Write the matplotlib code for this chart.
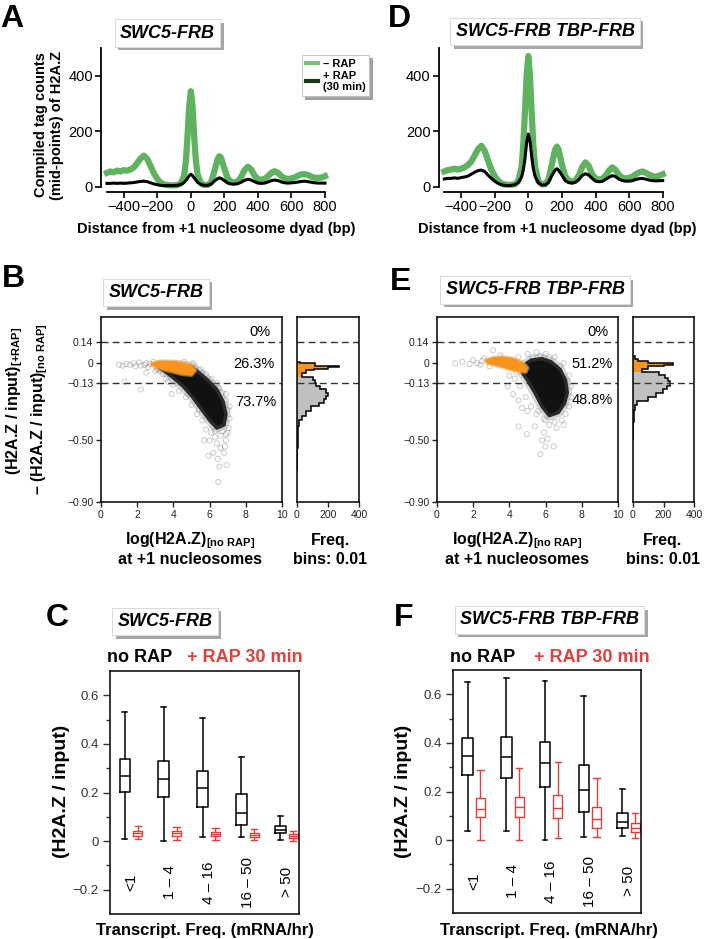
import matplotlib
matplotlib.use('Agg')
import matplotlib.pyplot as plt
import matplotlib.patheffects as pe
from matplotlib.lines import Line2D
from matplotlib.patches import Polygon
import numpy as np

plt.rcParams['font.family'] = ['Liberation Sans', 'DejaVu Sans']
plt.rcParams['mathtext.fontset'] = 'custom'
plt.rcParams['mathtext.rm'] = 'Liberation Sans'
plt.rcParams['mathtext.bf'] = 'Liberation Sans:bold'
plt.rcParams['mathtext.it'] = 'Liberation Sans:italic'

# ---------------- data ----------------
POS = [-500, -480, -460, -440, -420, -400, -380, -360, -340, -320, -300, -280, -260, -240,
       -220, -200, -180, -160, -140, -120, -100, -80, -60, -40, -30, -20, -10, 0, 10, 20,
       30, 40, 60, 80, 100, 120, 140, 160, 170, 180, 200, 220, 240, 260, 280, 300, 320,
       340, 360, 380, 400, 420, 440, 460, 480, 500, 520, 540, 560, 580, 600, 620, 640,
       660, 680, 700, 720, 740, 760, 780, 800]
A_NORAP = [50, 55, 52, 58, 55, 60, 58, 62, 70, 85, 102, 112, 100, 75, 48, 28, 15, 8, 6, 5, 5,
           6, 12, 40, 90, 180, 290, 345, 290, 180, 95, 45, 12, 6, 6, 15, 55, 100, 110, 105, 65,
           30, 18, 15, 20, 35, 60, 72, 62, 40, 28, 25, 28, 38, 50, 56, 50, 38, 30, 28, 30, 34,
           40, 45, 45, 42, 36, 32, 32, 33, 38]
A_RAP = [12, 12, 13, 12, 13, 12, 13, 14, 15, 17, 19, 20, 18, 14, 10, 7, 5, 4, 4, 4, 4, 5, 8, 15,
         22, 30, 40, 45, 40, 32, 24, 16, 8, 5, 5, 9, 20, 29, 32, 30, 22, 13, 10, 9, 11, 16, 23,
         27, 24, 18, 13, 12, 13, 17, 22, 24, 22, 17, 14, 13, 14, 15, 17, 19, 20, 18, 16, 14, 13,
         13, 13]
D_NORAP = [55, 60, 62, 65, 62, 65, 70, 78, 90, 112, 135, 148, 130, 95, 62, 38, 22, 12, 8, 7, 7,
           9, 20, 70, 150, 270, 400, 472, 400, 270, 150, 75, 20, 9, 9, 25, 80, 135, 145, 135, 80,
           38, 22, 18, 22, 40, 70, 88, 75, 45, 30, 26, 28, 40, 58, 70, 60, 42, 32, 30, 32, 36,
           45, 52, 55, 50, 43, 38, 36, 40, 45]
D_RAP = [28, 30, 30, 32, 30, 33, 35, 38, 45, 52, 58, 60, 55, 42, 30, 20, 12, 7, 5, 4, 5, 7, 15,
         35, 60, 100, 160, 190, 165, 110, 65, 38, 14, 6, 6, 15, 40, 60, 65, 60, 42, 22, 15, 13,
         16, 25, 40, 47, 42, 30, 20, 18, 19, 26, 34, 40, 36, 27, 22, 20, 20, 22, 26, 29, 30, 27,
         24, 22, 21, 22, 22]
PROFILE_XTICKS = [-400, -200, 0, 200, 400, 600, 800]
PROFILE_YTICKS = [0, 200, 400]

# scatter panels (B, E): dense core outline, orange subset outline, sparse points
B_CORE_X = [3.2, 4.2, 5.0, 5.4, 5.9, 6.4, 6.75, 6.9, 6.8, 6.4, 6.0, 5.5, 5.0, 4.5, 4.0, 3.5, 3.2]
B_CORE_Y = [-0.01, -0.01, -0.02, -0.06, -0.11, -0.17, -0.25, -0.33, -0.40, -0.42, -0.37, -0.29,
            -0.21, -0.145, -0.095, -0.05, -0.03]
B_OR_X = [2.8, 3.3, 4.0, 4.6, 5.0, 5.2, 5.0, 4.5, 3.8, 3.2, 2.8]
B_OR_Y = [0.0, 0.012, 0.01, 0.0, -0.015, -0.045, -0.075, -0.07, -0.05, -0.03, -0.012]
B_PTS_X = [1.0, 1.2, 1.4, 1.6, 1.8, 1.9, 2.1, 2.2, 2.4, 2.5, 2.6, 2.7, 1.3, 2.2, 2.5, 3.9, 3.6,
           3.0, 4.6, 5.1, 5.5, 5.8, 6.1, 6.4, 6.7, 6.9, 7.0, 7.1, 7.05, 6.9, 6.6, 6.3, 6.1, 5.8,
           5.6, 5.3, 5.0, 4.7, 4.3, 4.0, 3.7, 6.0, 6.4, 6.6, 6.9, 6.2, 6.8, 6.54, 6.94, 6.45,
           6.48, 5.93, 6.85, 7.0, 5.7, 6.3, 6.7, 5.2, 5.6, 6.0, 6.5, 6.9, 7.1, 6.2, 5.4, 4.8,
           4.4, 3.4, 2.9, 3.1]
B_PTS_Y = [-0.01, -0.015, -0.005, -0.01, 0.0, -0.02, 0.005, -0.015, -0.01, 0.0, -0.025, -0.005,
           -0.12, -0.17, -0.06, -0.2, -0.1, -0.05, 0.01, 0.0, -0.04, -0.07, -0.1, -0.13, -0.19,
           -0.24, -0.3, -0.36, -0.42, -0.46, -0.47, -0.48, -0.45, -0.43, -0.37, -0.33, -0.27,
           -0.22, -0.18, -0.14, -0.12, -0.5, -0.52, -0.55, -0.5, -0.58, -0.58, -0.67, -0.66,
           -0.62, -0.77, -0.6, -0.54, -0.45, -0.5, -0.44, -0.44, -0.03, -0.06, -0.12, -0.16,
           -0.2, -0.28, -0.41, -0.3, -0.2, -0.13, -0.07, 0.01, -0.04]
E_CORE_X = [4.7, 5.2, 5.8, 6.3, 6.8, 7.1, 7.2, 7.05, 6.7, 6.2, 5.8, 5.4, 5.0, 4.7]
E_CORE_Y = [-0.02, 0.02, 0.03, 0.01, -0.04, -0.11, -0.19, -0.26, -0.32, -0.34, -0.28, -0.19,
            -0.11, -0.06]
E_OR_X = [2.7, 3.1, 3.6, 4.2, 4.7, 5.0, 4.9, 4.4, 3.8, 3.2, 2.8, 2.7]
E_OR_Y = [0.02, 0.035, 0.04, 0.03, 0.005, -0.03, -0.055, -0.05, -0.03, -0.01, 0.0, 0.02]
E_PTS_X = [1.0, 1.4, 1.8, 2.0, 2.2, 2.4, 2.5, 3.1, 2.9, 4.5, 5.0, 5.5, 6.0, 6.5, 7.0, 7.3, 7.4,
           7.4, 7.3, 7.1, 6.9, 6.5, 6.2, 5.9, 5.5, 5.2, 4.9, 4.6, 4.3, 4.0, 3.9, 4.2, 4.5, 4.7,
           5.0, 4.51, 4.97, 5.4, 5.9, 6.1, 5.99, 5.71, 6.45, 6.6, 7.0, 5.8, 5.3, 5.7, 6.2, 6.8,
           7.2, 6.0, 5.6, 4.4, 3.5, 2.6]
E_PTS_Y = [0.0, 0.01, -0.005, 0.02, 0.0, -0.01, 0.015, 0.085, -0.02, 0.04, 0.06, 0.07, 0.06,
           0.04, 0.0, -0.08, -0.15, -0.22, -0.28, -0.33, -0.37, -0.38, -0.4, -0.36, -0.33,
           -0.28, -0.22, -0.15, -0.1, -0.08, -0.15, -0.2, -0.24, -0.29, -0.31, -0.41, -0.46,
           -0.41, -0.45, -0.49, -0.54, -0.59, -0.54, -0.42, -0.4, -0.5, 0.04, 0.05, 0.04, -0.02,
           -0.12, -0.37, -0.31, -0.06, 0.05, 0.03]
SC_YTICKS = [0.14, 0, -0.13, -0.50, -0.90]
SC_YLABELS = ['0.14', '0', '\u22120.13', '\u22120.50', '\u22120.90']
B_PCTS = ['0%', '26.3%', '73.7%']
E_PCTS = ['0%', '51.2%', '48.8%']

# marginal histograms (bins 0.01), all genes and orange subset
B_ALL_EDGES = [-0.70, -0.55, -0.46, -0.41, -0.37, -0.34, -0.31, -0.28, -0.26, -0.23, -0.21,
               -0.19, -0.17, -0.15, -0.13, -0.11, -0.09, -0.06, -0.045, -0.035, -0.025,
               -0.015, 0.0, 0.01]
B_ALL_COUNTS = [1, 4, 8, 15, 30, 55, 90, 145, 175, 190, 200, 185, 150, 120, 115, 100, 35, 55,
                110, 200, 270, 115, 20]
B_OR_EDGES = [-0.09, -0.06, -0.045, -0.035, -0.025, -0.015, 0.0, 0.01]
B_OR_COUNTS = [30, 55, 110, 200, 270, 115, 20]
E_ALL_EDGES = [-0.50, -0.38, -0.30, -0.27, -0.247, -0.22, -0.19, -0.168, -0.146, -0.118,
               -0.097, -0.075, -0.054, -0.036, -0.02, -0.009, 0.004, 0.017, 0.03, 0.047]
E_ALL_COUNTS = [2, 6, 12, 25, 100, 150, 195, 225, 240, 230, 210, 170, 60, 100, 200, 260, 100,
                30, 10]
E_OR_EDGES = [-0.054, -0.036, -0.02, -0.009, 0.004, 0.017, 0.03, 0.047]
E_OR_COUNTS = [60, 100, 200, 260, 100, 30, 10]

# box plots: rows = whisker low, Q1, median, Q3, whisker high
CATS = ['<1', '1 \u2013 4', '4 \u2013 16', '16 \u2013 50', '> 50']
C_NORAP = [[0.007, 0.0, 0.018, 0.015, 0.004],
           [0.204, 0.181, 0.142, 0.066, 0.032],
           [0.266, 0.255, 0.217, 0.114, 0.046],
           [0.338, 0.331, 0.288, 0.192, 0.062],
           [0.532, 0.552, 0.506, 0.346, 0.105]]
C_RAP = [[0.007, 0.004, 0.004, 0.004, 0.0],
         [0.022, 0.022, 0.019, 0.017, 0.012],
         [0.032, 0.033, 0.029, 0.026, 0.021],
         [0.041, 0.041, 0.039, 0.034, 0.029],
         [0.062, 0.059, 0.055, 0.051, 0.041]]
F_NORAP = [[0.038, 0.038, 0.0, 0.011, 0.018],
           [0.268, 0.257, 0.217, 0.117, 0.048],
           [0.346, 0.341, 0.316, 0.206, 0.076],
           [0.422, 0.423, 0.405, 0.309, 0.113],
           [0.650, 0.669, 0.654, 0.595, 0.209]]
F_RAP = [[0.0, 0.0, 0.007, 0.014, 0.007],
         [0.096, 0.096, 0.092, 0.051, 0.034],
         [0.130, 0.135, 0.133, 0.085, 0.051],
         [0.174, 0.179, 0.185, 0.135, 0.069],
         [0.287, 0.298, 0.323, 0.254, 0.110]]
BOX_YTICKS = [-0.2, 0, 0.2, 0.4, 0.6]
BOX_YLABELS = ['\u22120.2', '0', '0.2', '0.4', '0.6']

GREEN = '#5fb25f'
ORANGE = '#f7941d'
RED = '#e0403a'

# ---------------- figure ----------------
W, H = 704, 939
fig = plt.figure(figsize=(W / 100, H / 100), dpi=100)


def add_ax(l, t, r, b):
    return fig.add_axes([l / W, 1 - b / H, (r - l) / W, (b - t) / H])


def ftxt(x, y, s, **kw):
    return fig.text(x / W, 1 - y / H, s, **kw)


def title_box(cx, cy, s):
    t = ftxt(cx, cy, s, ha='center', va='center', fontsize=13, weight='bold', style='italic',
             bbox=dict(boxstyle='square,pad=0.3', fc='white', ec='#d8d8d8', lw=0.6))
    t.get_bbox_patch().set_path_effects([
        pe.withSimplePatchShadow(offset=(2.5, -2.5), shadow_rgbFace='#000000', alpha=0.35),
        pe.Normal()])
    return t


def profile_panel(ax, green, black):
    ax.plot(POS, green, color=GREEN, lw=4.5, solid_joinstyle='round', clip_on=False)
    ax.plot(POS, black, color='black', lw=2.2, solid_joinstyle='round', clip_on=False)
    ax.set_xlim(-500, 800)
    ax.set_ylim(0, 500)
    for s in ['top', 'right']:
        ax.spines[s].set_visible(False)
    ax.spines['left'].set_position(('outward', 4.0))
    ax.spines['bottom'].set_position(('outward', 3.6))
    for s in ['left', 'bottom']:
        ax.spines[s].set_linewidth(1.3)
    ax.set_xticks(PROFILE_XTICKS)
    ax.set_yticks(PROFILE_YTICKS)
    ax.tick_params(direction='out', length=4, width=1.2, labelsize=10.5, pad=2)


def scatter_panel(ax, cx, cy, ox, oy, px, py):
    ax.scatter(px, py, s=14, facecolors='none', edgecolors='#555555', alpha=0.35,
               linewidths=0.6, zorder=2)
    core = np.column_stack([cx, cy])
    ax.add_patch(Polygon(core, closed=True, fc='#606060', ec='#8a8a8a', lw=7, alpha=0.35,
                         joinstyle='round', zorder=3))
    ax.add_patch(Polygon(core, closed=True, fc='#111111', ec='#2a2a2a', lw=2.5,
                         joinstyle='round', zorder=3))
    orange = np.column_stack([ox, oy])
    ax.add_patch(Polygon(orange, closed=True, fc=ORANGE, ec='#f0b060', lw=3, alpha=0.6,
                         joinstyle='round', zorder=4))
    ax.add_patch(Polygon(orange, closed=True, fc=ORANGE, ec=ORANGE, lw=1,
                         joinstyle='round', zorder=4))
    for yv in (0.14, -0.13):
        ax.axhline(yv, color='#333333', lw=1, dashes=(5, 3), zorder=1)
    ax.set_xlim(0, 10)
    ax.set_ylim(-0.9, 0.3)
    ax.set_xticks([0, 2, 4, 6, 8, 10])
    ax.set_yticks(SC_YTICKS)
    ax.set_yticklabels(SC_YLABELS)
    ax.tick_params(direction='out', length=3.5, width=1, labelsize=7.5, pad=2,
                   colors='#222222')
    for s in ax.spines.values():
        s.set_linewidth(1.1)


def hist_panel(ax, all_edges, all_counts, or_edges, or_counts):
    ax.stairs(all_counts, all_edges, orientation='horizontal', fill=True, color='#c0c0c0')
    ax.stairs(or_counts, or_edges, orientation='horizontal', fill=True, color=ORANGE)
    ax.stairs(all_counts, all_edges, orientation='horizontal', fill=False, color='black',
              lw=1.1)
    for yv in (0.14, -0.13):
        ax.axhline(yv, color='#333333', lw=1, dashes=(5, 3))
    ax.set_xlim(0, 400)
    ax.set_ylim(-0.9, 0.3)
    ax.set_xticks([0, 200, 400])
    ax.set_yticks([])
    ax.tick_params(direction='out', length=3.5, width=1, labelsize=7.5, pad=2,
                   colors='#222222')
    for s in ax.spines.values():
        s.set_linewidth(1.1)


def box_panel(ax, norap, rap):
    sb = [dict(whislo=norap[0][i], q1=norap[1][i], med=norap[2][i], q3=norap[3][i],
               whishi=norap[4][i]) for i in range(len(CATS))]
    sr = [dict(whislo=rap[0][i], q1=rap[1][i], med=rap[2][i], q3=rap[3][i],
               whishi=rap[4][i]) for i in range(len(CATS))]
    pos = np.arange(len(CATS))
    kb = dict(color='black', lw=1.1)
    ax.bxp(sb, positions=pos, widths=0.27, capwidths=0.12, showfliers=False,
           manage_ticks=False, boxprops=kb, whiskerprops=kb, capprops=kb, medianprops=kb)
    kr = dict(color=RED, lw=1.0)
    ax.bxp(sr, positions=pos + 0.33, widths=0.24, capwidths=0.16, showfliers=False,
           manage_ticks=False, boxprops=kr, whiskerprops=kr, capprops=kr, medianprops=kr)
    for i, c in enumerate(CATS):
        ax.text(i + 0.165, -0.17, c, rotation=90, ha='center', va='center', fontsize=11)
    ax.set_xlim(-0.38, 4.48)
    ax.set_ylim(-0.3, 0.7)
    ax.set_xticks([])
    ax.set_yticks(BOX_YTICKS)
    ax.set_yticklabels(BOX_YLABELS)
    ax.set_yticks([-0.1, 0.1, 0.3, 0.5], minor=True)
    ax.tick_params(axis='y', which='both', direction='out', width=1, labelsize=9.5, pad=3,
                   colors='#333333')
    ax.tick_params(axis='y', which='major', length=5)
    ax.tick_params(axis='y', which='minor', length=3)
    for s in ax.spines.values():
        s.set_linewidth(1.1)


# ---- A / D ----
axA = add_ax(107, 48.3, 325, 186.7)
profile_panel(axA, A_NORAP, A_RAP)
axD = add_ax(444.3, 48.3, 662.7, 186.7)
profile_panel(axD, D_NORAP, D_RAP)

leg = axA.legend([Line2D([], [], color='#7cc47c', lw=3), Line2D([], [], color='#1e3a1e', lw=3)],
                 ['\u2013 RAP', '+ RAP\n(30 min)'],
                 loc='upper left', bbox_to_anchor=(302 / W, 1 - 55 / H),
                 bbox_transform=fig.transFigure, borderaxespad=0, frameon=True, shadow=True,
                 fancybox=False, handlelength=1.1, handletextpad=0.4, borderpad=0.35,
                 labelspacing=0.15, prop=dict(weight='bold', size=8))
leg.get_frame().set_edgecolor('#bbbbbb')
leg.get_frame().set_linewidth(0.6)

ftxt(49, 125, 'Compiled tag counts\n(mid-points) of H2A.Z', rotation=90, ha='center',
     va='center', fontsize=10.5, weight='bold', linespacing=1.15)
ftxt(216.5, 228.5, 'Distance from +1 nucleosome dyad (bp)', ha='center', va='center',
     fontsize=10.5, weight='bold')
ftxt(557.5, 228.5, 'Distance from +1 nucleosome dyad (bp)', ha='center', va='center',
     fontsize=10.5, weight='bold')

# ---- B / E ----
axB = add_ax(101, 317, 282, 502)
scatter_panel(axB, B_CORE_X, B_CORE_Y, B_OR_X, B_OR_Y, B_PTS_X, B_PTS_Y)
axBh = add_ax(297, 317, 359, 502)
hist_panel(axBh, B_ALL_EDGES, B_ALL_COUNTS, B_OR_EDGES, B_OR_COUNTS)
axE = add_ax(437, 317, 618, 502)
scatter_panel(axE, E_CORE_X, E_CORE_Y, E_OR_X, E_OR_Y, E_PTS_X, E_PTS_Y)
axEh = add_ax(633, 317, 694, 502)
hist_panel(axEh, E_ALL_EDGES, E_ALL_COUNTS, E_OR_EDGES, E_OR_COUNTS)

for (x, y), s in zip([(270, 332), (275, 363.5), (277, 402)], B_PCTS):
    ftxt(x, y, s, ha='right', va='center', fontsize=10.5)
for (x, y), s in zip([(608, 332), (613, 364.5), (613, 400.5)], E_PCTS):
    ftxt(x, y, s, ha='right', va='center', fontsize=10.5)

ftxt(15, 327, '(H2A.Z / input)$_{\\mathbf{[+RAP]}}$', rotation=90, ha='center',
     va='top', fontsize=11.5, weight='bold')
ftxt(40, 323, '\u2013 (H2A.Z / input)$_{\\mathbf{[no\\ RAP]}}$', rotation=90, ha='center',
     va='top', fontsize=11.5, weight='bold')

for cx in (190, 517):
    ftxt(cx, 541, 'log(H2A.Z)$_{\\mathbf{[no\\ RAP]}}$', ha='center', va='center',
         fontsize=11.5, weight='bold')
    ftxt(cx, 560, 'at +1 nucleosomes', ha='center', va='center', fontsize=11.5, weight='bold')
for cx in (330, 663):
    ftxt(cx, 541, 'Freq.', ha='center', va='center', fontsize=11.5, weight='bold')
    ftxt(cx, 560, 'bins: 0.01', ha='center', va='center', fontsize=11.5, weight='bold')

# ---- C / F ----
axC = add_ax(110, 671, 299, 914)
box_panel(axC, C_NORAP, C_RAP)
axF = add_ax(453, 670, 641, 913)
box_panel(axF, F_NORAP, F_RAP)

for x0, x1 in ((107, 187), (450, 534)):
    ftxt(x0, 662, 'no RAP', ha='left', va='baseline', fontsize=13, weight='bold')
    ftxt(x1, 662, '+ RAP 30 min', ha='left', va='baseline', fontsize=13, weight='bold',
         color=RED)
for x in (62, 404):
    ftxt(x, 791, '(H2A.Z / input)', rotation=90, ha='center', va='center', fontsize=14,
         weight='bold')
for x in (205, 548.5):
    ftxt(x, 930, 'Transcript. Freq. (mRNA/hr)', ha='center', va='center', fontsize=12,
         weight='bold')

# ---- titles and panel letters ----
title_box(167.5, 33, 'SWC5-FRB')
title_box(545, 31.5, 'SWC5-FRB TBP-FRB')
title_box(156, 292.5, 'SWC5-FRB')
title_box(535, 290, 'SWC5-FRB TBP-FRB')
title_box(165, 621.5, 'SWC5-FRB')
title_box(549.5, 620, 'SWC5-FRB TBP-FRB')

for x, y, s in [(0, 27, 'A'), (388, 27, 'D'), (2, 287, 'B'), (390, 290, 'E'),
                (46, 626, 'C'), (394, 626, 'F')]:
    ftxt(x, y, s, ha='left', va='baseline', fontsize=23, weight='bold')

fig.savefig('out.png', dpi=100)
